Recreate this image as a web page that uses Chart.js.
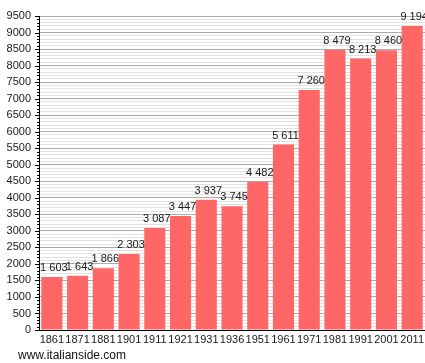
<!DOCTYPE html>
<html>
<head>
<meta charset="utf-8">
<script src="https://cdn.jsdelivr.net/npm/chart.js@4/dist/chart.umd.min.js"></script>
<style>
  html, body { margin: 0; padding: 0; background: #fff; overflow: hidden; }
  #wrap { width: 427px; height: 363px; }
</style>
</head>
<body>
<div id="wrap"><canvas id="popChart" width="427" height="363"></canvas></div>
<script>
const years = ['1861', '1871', '1881', '1901', '1911', '1921', '1931', '1936', '1951', '1961', '1971', '1981', '1991', '2001', '2011'];
const population = [1603, 1643, 1866, 2303, 3087, 3447, 3937, 3745, 4482, 5611, 7260, 8479, 8213, 8460, 9194];
const yMax = 9500;
const majorStep = 500;
const minorStep = 100;

const smallFont = "11px 'Liberation Sans Narrow', 'Liberation Sans', Arial, sans-serif";

function fmt(n) {
  return String(n).replace(/\B(?=(\d{3})+(?!\d))/g, ' ');
}

// value labels above the bars
const barLabels = {
  id: 'barLabels',
  afterDatasetsDraw(chart) {
    const ctx = chart.ctx;
    const meta = chart.getDatasetMeta(0);
    ctx.save();
    ctx.font = smallFont;
    ctx.fillStyle = '#1a1a1a';
    ctx.textAlign = 'center';
    ctx.textBaseline = 'alphabetic';
    meta.data.forEach((bar, i) => {
      ctx.fillText(fmt(population[i]), bar.x + 2, bar.y - 6);
    });
    ctx.restore();
  }
};

// tick marks on the y axis, long every 500, short every 100
const axisTicks = {
  id: 'axisTicks',
  afterDraw(chart) {
    const ctx = chart.ctx;
    const y = chart.scales.y;
    const left = chart.chartArea.left;
    ctx.save();
    ctx.strokeStyle = '#000';
    ctx.lineWidth = 1;
    for (let v = 0; v <= yMax; v += minorStep) {
      const py = Math.round(y.getPixelForValue(v)) + 0.5;
      const len = v % majorStep === 0 ? 4 : 2;
      ctx.beginPath();
      ctx.moveTo(left - len, py);
      ctx.lineTo(left, py);
      ctx.stroke();
    }
    ctx.font = "12px 'Liberation Sans', Arial, sans-serif";
    ctx.fillStyle = '#111';
    ctx.textAlign = 'left';
    ctx.textBaseline = 'alphabetic';
    ctx.fillText('www.italianside.com', 18, 359);
    ctx.restore();
  }
};

new Chart(document.getElementById('popChart'), {
  type: 'bar',
  data: {
    labels: years,
    datasets: [{
      data: population,
      backgroundColor: '#ff6666',
      borderWidth: 0,
      categoryPercentage: 1,
      barPercentage: 0.82
    }]
  },
  options: {
    responsive: false,
    animation: false,
    layout: { padding: { top: 16, right: 0, bottom: 0, left: 0 } },
    plugins: {
      legend: { display: false },
      tooltip: { enabled: false }
    },
    scales: {
      x: {
        grid: { display: false, drawTicks: false, tickLength: 0 },
        border: { color: '#000', width: 1 },
        ticks: { font: { family: "'Liberation Sans Narrow', 'Liberation Sans', Arial", size: 11 }, color: '#1a1a1a', padding: 3, autoSkip: false, maxRotation: 0 },
        afterFit(scale) { scale.height = 33; }
      },
      y: {
        min: 0,
        max: yMax,
        border: { color: '#000', width: 1 },
        grid: {
          drawTicks: false,
          color: (c) => c.tick && c.tick.value % majorStep === 0 ? '#aaaaaa' : '#e2e2e2'
        },
        ticks: {
          stepSize: minorStep,
          autoSkip: false,
          padding: 8,
          color: '#1a1a1a',
          font: { family: "'Liberation Sans Narrow', 'Liberation Sans', Arial", size: 11 },
          callback: (v) => v % majorStep === 0 ? v : ''
        },
        afterFit(scale) { scale.width = 39; }
      }
    }
  },
  plugins: [barLabels, axisTicks]
});
</script>
</body>
</html>
